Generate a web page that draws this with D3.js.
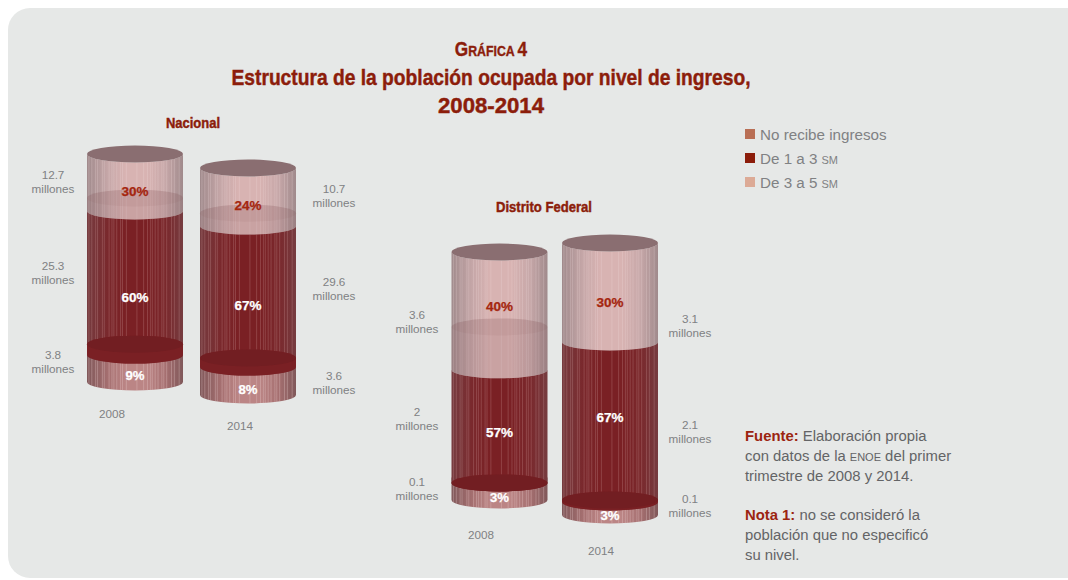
<!DOCTYPE html>
<html><head><meta charset="utf-8">
<script src="https://cdn.jsdelivr.net/npm/d3@7/dist/d3.min.js"></script>
<style>html,body{margin:0;padding:0;background:#fff}svg{display:block}</style>
</head><body><svg id="c" width="1068" height="580"></svg>
<script>
const panels = ["Nacional", "Distrito Federal"];
const years = ["2008", "2014", "2008", "2014"];
const series = ["No recibe ingresos", "De 1 a 3", "De 3 a 5"];
const legendSuffix = ["", "SM", "SM"];
const legendColors = ["#b96f55", "#8c1d0b", "#dcaa96"];
// percentages printed on the cylinders, bottom to top
const pctNoRecibe = [9, 8, 3, 3];
const pct1a3 = [60, 67, 57, 67];
const pct3a5 = [30, 24, 40, 30];
// population labels in millions
const mill1 = ["3.8", "3.6", "0.1", "0.1"];
const mill2 = ["25.3", "29.6", "2", "2.1"];
const mill3 = ["12.7", "10.7", "3.6", "3.1"];
// the source's drawing is not to scale: share of each cylinder's height as drawn
const drawnLow = [11.8, 12.3, 6.9, 4.8];
const drawnMid = [63.2, 62.1, 45.6, 58.8];
const drawnHigh = [25, 25.6, 47.5, 36.4];
const overlapHigh = [5.7, 5.7, 17.3, 0];
const overlapLow = [4.8, 4, 0, 0.7];

const layout = [
  {cx:135, top:154, bottom:382, ry:8.5, yearX:112, yearY:418, labelX:53, y1:359, y2:270, y3:179},
  {cx:248, top:168, bottom:395, ry:8.5, yearX:240, yearY:430, labelX:334, y1:380, y2:286, y3:193},
  {cx:499.5, top:252, bottom:500, ry:8.5, yearX:481, yearY:539, labelX:417, y1:486, y2:416, y3:319},
  {cx:610, top:243, bottom:515, ry:8.5, yearX:601, yearY:555, labelX:690, y1:503, y2:429, y3:323}
];
const pctY = [[380,302,196],[394,310,210],[502,437,311],[520,422,307]];
const RX = 48;
const svg = d3.select("#c");
const defs = svg.append("defs");
const INK = "#8c1d0b", GREY = "#808183", TEXT = "#636466";
const BODY = "'Liberation Sans', Arial, sans-serif";
const TITLE = "'Liberation Sans Narrow', 'Liberation Sans', sans-serif";

svg.append("rect").attr("x",8).attr("y",8).attr("width",1080).attr("height",570).attr("rx",22).attr("fill","#e6e8e7");

// Streak positions across a cylinder (0..1): the light vertical lines in the source
const streaks = [.02,.05,.09,.11,.16,.18,.23,.26,.28,.31,.35,.37,.41,.52,.59,.63,.66,.68,.71,.74,.78,.8,.83,.88,.91,.96];
function makeGrad(id, edge, mid, inner){
  const g = defs.append("linearGradient").attr("id",id).attr("x1",0).attr("x2",1).attr("y1",0).attr("y2",0);
  [[0,edge],[.22,inner],[.4,mid],[.62,mid],[.82,inner],[1,edge]].forEach(s=>g.append("stop").attr("offset",s[0]).attr("stop-color",s[1]));
}
makeGrad("gHigh","#a08a8c","#d8b3b2","#c6a7a8");
makeGrad("gMid","#763c40","#7a2024","#7a282c");
makeGrad("gLow","#80585a","#bb8585","#a56f70");

const x = i => d3.scaleLinear().domain([-1,1]).range([layout[i].cx-RX, layout[i].cx+RX]);
function segPath(cx, y0, y1, ry, topFront){
  const t = topFront ? `A${RX},${ry} 0 0 0 ${cx+RX},${y0}` : `A${RX},${ry} 0 0 1 ${cx+RX},${y0}`;
  return `M${cx-RX},${y0}` + t + `L${cx+RX},${y1}A${RX},${ry} 0 0 1 ${cx-RX},${y1}Z`;
}
function streakLines(g, i, y0, y1, ry, color, op){
  const sx = x(i), arc = d => Math.sqrt(Math.max(0,1-(d*2-1)**2))*ry;
  g.selectAll(null).data(streaks).join("line")
    .attr("x1",d=>sx(d*2-1)).attr("x2",d=>sx(d*2-1))
    .attr("y1",d=>y0 + arc(d)).attr("y2",d=>y1 + arc(d))
    .attr("stroke",color).attr("stroke-opacity",op).attr("stroke-width",0.7);
}

layout.forEach((L,i)=>{
  const y = d3.scaleLinear().domain([0,100]).range([L.bottom,L.top]);
  const low = drawnLow[i], mid = low + drawnMid[i];
  const yLow = y(low), yMid = y(mid), yTop = y(100), yBot = y(0);
  const g = svg.append("g");
  const cx = L.cx, ry = L.ry;
  // bottom band
  g.append("path").attr("d",segPath(cx,yLow-6,yBot,ry,true)).attr("fill","url(#gLow)");
  streakLines(g,i,yLow,yBot,ry,"#ecd0d0",.45);
  // top band
  g.append("path").attr("d",segPath(cx,yTop,yMid,ry,true)).attr("fill","url(#gHigh)");
  streakLines(g,i,yTop,yMid,ry,"#f2e0e0",.35);
  // overlap of the top band with the hidden top of the middle band
  if(overlapHigh[i]>0){
    const yO = y(mid+overlapHigh[i]);
    g.append("path").attr("d",segPath(cx,yO,yMid,ry,false)).attr("fill","#7a4a4e").attr("fill-opacity",.16);
    g.append("ellipse").attr("cx",cx).attr("cy",yO).attr("rx",RX).attr("ry",ry).attr("fill","#7a4a4e").attr("fill-opacity",.08);
  }
  // middle band
  g.append("path").attr("d",segPath(cx,yMid,yLow,ry,true)).attr("fill","url(#gMid)");
  streakLines(g,i,yMid,yLow,ry,"#d8a8a8",.36);
  // dark base of the middle band: solid front and a slightly darker cap
  const yC = y(low+overlapLow[i]);
  g.append("path").attr("d",segPath(cx,yC,yLow,ry,false)).attr("fill","#7a2024");
  g.append("ellipse").attr("cx",cx).attr("cy",yC).attr("rx",RX).attr("ry",ry).attr("fill","#721e22");
  // top cap
  g.append("ellipse").attr("cx",cx).attr("cy",yTop).attr("rx",RX).attr("ry",ry).attr("fill","#8a6e71");

  // percentages
  const pct = (v,yy,c)=>g.append("text").attr("x",cx).attr("y",yy).attr("text-anchor","middle")
    .attr("font-family",BODY).attr("font-weight",700).attr("font-size",12.5).attr("fill",c)
    .attr("stroke",c).attr("stroke-width",.25)
    .attr("textLength",v<10?19:27).attr("lengthAdjust","spacingAndGlyphs").text(v+"%");
  pct(pctNoRecibe[i],pctY[i][0],"#fff"); pct(pct1a3[i],pctY[i][1],"#fff"); pct(pct3a5[i],pctY[i][2],"#a5260f");

  // population labels
  [[mill1[i],L.y1],[mill2[i],L.y2],[mill3[i],L.y3]].forEach(([v,yy])=>{
    const t = svg.append("text").attr("text-anchor","middle").attr("font-family",BODY).attr("font-size",11.7).attr("fill",GREY);
    t.append("tspan").attr("x",L.labelX).attr("y",yy).text(v);
    t.append("tspan").attr("x",L.labelX).attr("y",yy+14).text("millones");
  });
  svg.append("text").attr("x",L.yearX).attr("y",L.yearY).attr("text-anchor","middle").attr("font-family",BODY).attr("font-size",11.7).attr("fill",GREY).text(years[i]);
});

// Titles
const tt = (t,xx,yy,size,len)=>svg.append("text").attr("x",xx).attr("y",yy).attr("text-anchor","middle")
  .attr("font-family",TITLE).attr("font-weight",700).attr("font-size",size).attr("fill",INK)
  .attr("stroke",INK).attr("stroke-width",.45)
  .attr("textLength",len).attr("lengthAdjust","spacingAndGlyphs").text(t);
const head = svg.append("text").attr("transform","translate(491,56) scale(.82,1)").attr("text-anchor","middle").attr("font-family",TITLE).attr("font-weight",700).attr("fill",INK).attr("font-size",15)
  .attr("stroke",INK).attr("stroke-width",.4);
head.append("tspan").attr("font-size",21).text("G");
head.append("tspan").text("RÁFICA ");
head.append("tspan").attr("font-size",21).text("4");
tt("Estructura de la población ocupada por nivel de ingreso,",491,85,22.5,519);
tt("2008-2014",491,113,22.5,106);
tt(panels[0],193,128,15,54);
tt(panels[1],544,212,15,96);

// Legend
const ly = d3.scalePoint().domain(series).range([134,182]);
series.forEach((s,i)=>{
  svg.append("rect").attr("x",745).attr("y",ly(s)-5).attr("width",10).attr("height",10).attr("fill",legendColors[i]);
  const t = svg.append("text").attr("x",760).attr("y",ly(s)+6).attr("font-family",BODY).attr("font-size",15.2).attr("fill",GREY).text(s);
  if(legendSuffix[i]) t.append("tspan").attr("dx",4).attr("font-size",11).text(legendSuffix[i]);
});

// Notes
function note(yy, parts){
  const t = svg.append("text").attr("x",745).attr("y",yy).attr("font-family",BODY).attr("font-size",14.85).attr("fill",TEXT);
  parts.forEach(p=>{const s=t.append("tspan").text(p.t); if(p.b) s.attr("font-weight",700).attr("fill","#9c2410"); if(p.s) s.attr("font-size",11);});
}
note(441,[{t:"Fuente:",b:1},{t:" Elaboración propia"}]);
note(461,[{t:"con datos de la "},{t:"ENOE",s:1},{t:" del primer"}]);
note(481,[{t:"trimestre de 2008 y 2014."}]);
note(520,[{t:"Nota 1:",b:1},{t:" no se consideró la"}]);
note(540,[{t:"población que no especificó"}]);
note(560,[{t:"su nivel."}]);
</script></body></html>
